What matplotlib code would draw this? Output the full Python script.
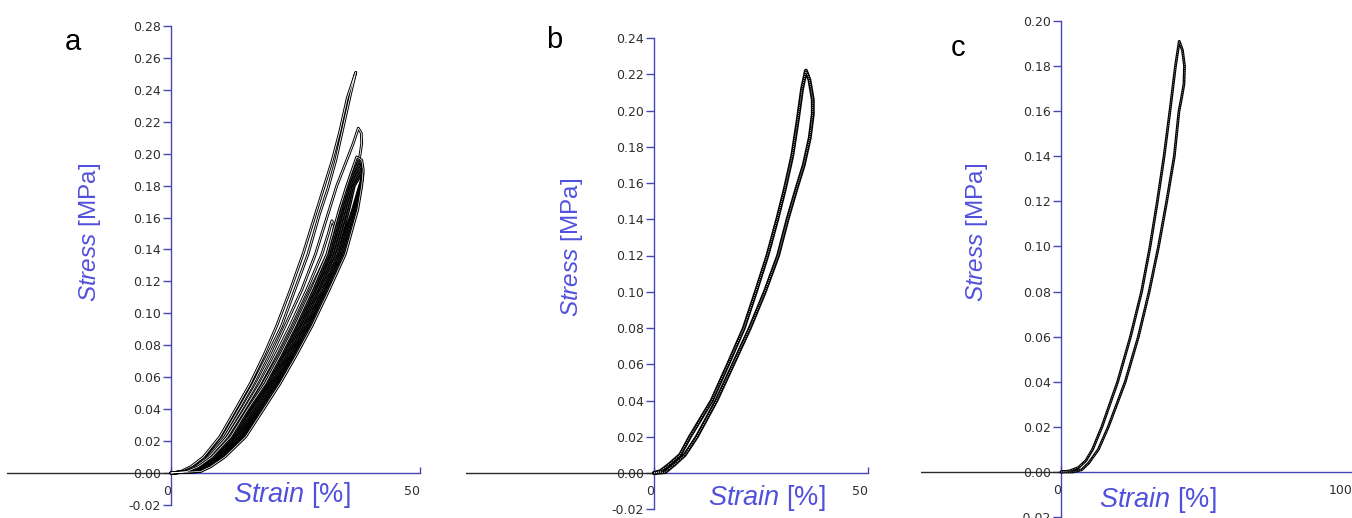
import matplotlib
matplotlib.use("Agg")
import matplotlib.pyplot as plt
from matplotlib.ticker import FixedLocator, FixedFormatter

plt.rcParams['font.family'] = ['Liberation Sans', 'DejaVu Sans']
plt.rcParams['mathtext.fontset'] = 'custom'
plt.rcParams['mathtext.it'] = 'Liberation Sans:italic'
plt.rcParams['mathtext.rm'] = 'Liberation Sans'
plt.rcParams['axes.unicode_minus'] = False

# ---------------- data: strain [%] / stress [MPa] hysteresis loops ----------------
# Panel a: repeated load-unload cycles (each list is one closed loop)
a_loopA_strain = [0, 2.0, 4.0, 6.5, 9.8, 13.0, 15.9, 18.7, 21.2, 24.0, 26.5, 29.0, 30.6, 32.4, 33.9, 35.4, 37.1,
                  36.1, 34.6, 33.1, 31.5, 29.8, 27.5, 24.9, 22.2, 19.4, 16.5, 13.6, 10.4, 7.2, 4.8, 3.0, 0]
a_loopA_stress = [0, 0.001, 0.004, 0.010, 0.0227, 0.040, 0.056, 0.074, 0.092, 0.115, 0.137, 0.162, 0.178, 0.196, 0.214, 0.235, 0.251,
                  0.238, 0.217, 0.196, 0.178, 0.162, 0.137, 0.115, 0.092, 0.074, 0.056, 0.040, 0.0227, 0.010, 0.004, 0.001, 0]

a_loopB_strain = [0, 2.6, 4.8, 7.3, 10.8, 14.2, 17.2, 20.2, 22.9, 26.3, 29.0, 31.8, 33.3, 35.3, 36.6, 37.6,
                  38.2, 38.3, 37.9, 37.2, 36.2, 35.0, 32.6, 29.5, 26.0, 23.0, 19.9, 16.6, 12.9, 9.0, 6.2, 4.0, 0]
a_loopB_stress = [0, 0.001, 0.004, 0.010, 0.0227, 0.040, 0.056, 0.074, 0.092, 0.115, 0.137, 0.165, 0.180, 0.196, 0.2065, 0.216,
                  0.213, 0.2065, 0.198, 0.190, 0.180, 0.165, 0.137, 0.115, 0.092, 0.074, 0.056, 0.040, 0.0227, 0.010, 0.004, 0.001, 0]

a_loopD_strain = [0, 2.8, 5.0, 7.6, 11.3, 14.8, 17.9, 21.0, 23.9, 27.3, 30.3, 31.6, 32.3,
                  32.8, 32.6, 31.4, 28.0, 24.6, 21.7, 18.5, 15.3, 11.8, 8.0, 5.3, 3.0, 0]
a_loopD_stress = [0, 0.001, 0.004, 0.010, 0.0227, 0.040, 0.056, 0.074, 0.092, 0.115, 0.137, 0.150, 0.158,
                  0.155, 0.148, 0.137, 0.115, 0.092, 0.074, 0.056, 0.040, 0.0227, 0.010, 0.004, 0.001, 0]

a_loopE0_strain = [0, 3.2, 5.5, 8.2, 12.0, 15.4, 18.9, 22.0, 24.9, 28.3, 31.3, 33.8, 35.3, 36.4, 37.3,
                   38.3, 38.6, 38.3, 37.5, 35.0, 31.8, 28.3, 25.2, 21.9, 18.6, 15.0, 10.8, 8.0, 6.0, 0]
a_loopE0_stress = [0, 0.001, 0.004, 0.010, 0.0227, 0.040, 0.056, 0.074, 0.092, 0.115, 0.137, 0.165, 0.180, 0.190, 0.198,
                   0.196, 0.190, 0.180, 0.165, 0.137, 0.115, 0.092, 0.074, 0.056, 0.040, 0.0227, 0.010, 0.004, 0.001, 0]

a_loopE1_strain = [0, 3.5, 5.8, 8.5, 12.3, 15.7, 19.2, 22.3, 25.2, 28.7, 31.7, 34.2, 35.6, 36.7, 37.6,
                   38.4, 38.5, 38.2, 37.3, 34.7, 31.5, 28.0, 24.9, 21.7, 18.3, 14.8, 10.6, 7.8, 5.8, 0]
a_loopE1_stress = [0, 0.001, 0.004, 0.010, 0.0227, 0.040, 0.056, 0.074, 0.092, 0.115, 0.137, 0.165, 0.180, 0.189, 0.195,
                   0.193, 0.187, 0.180, 0.165, 0.137, 0.115, 0.092, 0.074, 0.056, 0.040, 0.0227, 0.010, 0.004, 0.001, 0]

a_loopE2_strain = [0, 3.8, 6.0, 8.7, 12.6, 16.0, 19.5, 22.6, 25.6, 29.0, 32.0, 34.5, 35.9, 37.0, 37.8,
                   38.4, 38.4, 38.1, 37.1, 34.4, 31.2, 27.8, 24.7, 21.4, 18.1, 14.5, 10.4, 7.6, 5.6, 0]
a_loopE2_stress = [0, 0.001, 0.004, 0.010, 0.0227, 0.040, 0.056, 0.074, 0.092, 0.115, 0.137, 0.165, 0.180, 0.188, 0.193,
                   0.190, 0.185, 0.180, 0.165, 0.137, 0.115, 0.092, 0.074, 0.056, 0.040, 0.0227, 0.010, 0.004, 0.001, 0]

a_loopE3_strain = [0, 4.0, 6.3, 9.0, 12.9, 16.4, 19.8, 23.0, 25.9, 29.4, 32.4, 34.9, 36.2, 37.2, 38.0,
                   38.5, 38.3, 38.0, 36.9, 34.1, 31.0, 27.5, 24.4, 21.2, 17.8, 14.3, 10.2, 7.4, 5.3, 0]
a_loopE3_stress = [0, 0.001, 0.004, 0.010, 0.0227, 0.040, 0.056, 0.074, 0.092, 0.115, 0.137, 0.165, 0.180, 0.186, 0.190,
                   0.188, 0.184, 0.180, 0.165, 0.137, 0.115, 0.092, 0.074, 0.056, 0.040, 0.0227, 0.010, 0.004, 0.001, 0]

a_loopE4_strain = [0, 4.3, 6.5, 9.2, 13.2, 16.7, 20.1, 23.3, 26.3, 29.7, 32.8, 35.3, 36.5, 37.4, 38.1,
                   38.5, 38.3, 38.0, 36.7, 33.8, 30.7, 27.2, 24.2, 20.9, 17.6, 14.0, 10.0, 7.2, 5.1, 0]
a_loopE4_stress = [0, 0.001, 0.004, 0.010, 0.0227, 0.040, 0.056, 0.074, 0.092, 0.115, 0.137, 0.165, 0.180, 0.185, 0.188,
                   0.186, 0.183, 0.180, 0.165, 0.137, 0.115, 0.092, 0.074, 0.056, 0.040, 0.0227, 0.010, 0.004, 0.001, 0]

a_loopE5_strain = [0, 4.6, 6.8, 9.5, 13.5, 17.0, 20.4, 23.6, 26.6, 30.1, 33.2, 35.7, 36.8, 37.6, 38.2,
                   38.4, 38.2, 37.9, 36.5, 33.5, 30.4, 26.9, 23.9, 20.7, 17.3, 13.8, 9.8, 7.0, 4.9, 0]
a_loopE5_stress = [0, 0.001, 0.004, 0.010, 0.0227, 0.040, 0.056, 0.074, 0.092, 0.115, 0.137, 0.165, 0.180, 0.184, 0.186,
                   0.185, 0.182, 0.180, 0.165, 0.137, 0.115, 0.092, 0.074, 0.056, 0.040, 0.0227, 0.010, 0.004, 0.001, 0]

# Panel b: single loop
b_loop_strain = [0, 1.5, 3.7, 6.1, 8.4, 13.5, 17.3, 21.0, 23.8, 26.5, 28.8, 30.6, 32.3, 33.6, 34.6, 35.5,
                 36.3, 37.1, 37.1, 36.4, 35.0, 33.3, 31.2, 29.0, 25.9, 22.4, 18.5, 14.6, 10.0, 7.2, 4.9, 2.6, 0]
b_loop_stress = [0, 0.001, 0.005, 0.010, 0.020, 0.040, 0.060, 0.080, 0.100, 0.120, 0.140, 0.157, 0.175, 0.195, 0.212, 0.222,
                 0.217, 0.206, 0.198, 0.185, 0.170, 0.157, 0.140, 0.120, 0.100, 0.080, 0.060, 0.040, 0.020, 0.010, 0.005, 0.0005, 0]

# Panel c: single loop
c_loop_strain = [0, 3.0, 6.0, 8.5, 10.8, 14.0, 19.4, 23.8, 27.6, 30.5, 33.0, 35.3, 37.3, 39.2, 40.5,
                 41.6, 42.3, 42.1, 41.3, 40.4, 38.8, 36.2, 33.4, 30.2, 26.5, 22.0, 16.2, 12.8, 9.5, 7.1, 4.0, 0]
c_loop_stress = [0, 0.0005, 0.002, 0.005, 0.010, 0.020, 0.040, 0.060, 0.080, 0.100, 0.120, 0.140, 0.160, 0.180, 0.191,
                 0.187, 0.180, 0.172, 0.166, 0.160, 0.140, 0.120, 0.100, 0.080, 0.060, 0.040, 0.020, 0.010, 0.004, 0.001, 0, 0]

# Axis ticks
a_yticks = [-0.02, 0.00, 0.02, 0.04, 0.06, 0.08, 0.10, 0.12, 0.14, 0.16, 0.18, 0.20, 0.22, 0.24, 0.26, 0.28]
b_yticks = [-0.02, 0.00, 0.02, 0.04, 0.06, 0.08, 0.10, 0.12, 0.14, 0.16, 0.18, 0.20, 0.22, 0.24]
c_yticks = [-0.02, 0.00, 0.02, 0.04, 0.06, 0.08, 0.10, 0.12, 0.14, 0.16, 0.18, 0.20]
a_xticks = [0, 50]
b_xticks = [0, 50]
c_xticks = [0, 100]

# ---------------- figure ----------------
W, H = 1352, 518
AXIS_BLUE = '#4646b4'
LABEL_BLUE = '#5050dc'
TICK_GREY = '#2e2e2e'

fig = plt.figure(figsize=(W / 100, H / 100), dpi=100)


def place_axes(x0_px, x_scale, y0_px, y_scale, xlim, ylim):
    left = x0_px + xlim[0] * x_scale
    right = x0_px + xlim[1] * x_scale
    top = y0_px - ylim[1] * y_scale
    bottom = y0_px - ylim[0] * y_scale
    ax = fig.add_axes([left / W, 1 - bottom / H, (right - left) / W, (bottom - top) / H])
    ax.set_xlim(xlim)
    ax.set_ylim(ylim)
    ax.patch.set_alpha(0)
    return ax


def style_axes(ax, yticks, xticks):
    for s in ('top', 'right'):
        ax.spines[s].set_visible(False)
    ax.spines['left'].set_position(('data', 0))
    ax.spines['bottom'].set_position(('data', 0))
    ax.spines['left'].set_bounds(yticks[0], yticks[-1])
    ax.spines['bottom'].set_bounds(xticks[0], xticks[-1])
    for s in ('left', 'bottom'):
        ax.spines[s].set_color(AXIS_BLUE)
        ax.spines[s].set_linewidth(1.0)
    ax.yaxis.set_major_locator(FixedLocator(yticks))
    ax.yaxis.set_major_formatter(FixedFormatter([f'{v:.2f}' for v in yticks]))
    ax.xaxis.set_major_locator(FixedLocator(xticks))
    ax.xaxis.set_major_formatter(FixedFormatter([str(v) for v in xticks]))
    ax.tick_params(axis='y', direction='out', length=6, width=1.0, color=AXIS_BLUE,
                   pad=1.2, labelsize=9, labelcolor=TICK_GREY, labelfontfamily='DejaVu Sans')
    ax.tick_params(axis='x', direction='in', length=4.5, width=1.0, color=AXIS_BLUE,
                   pad=8.5, labelsize=9, labelcolor=TICK_GREY, labelfontfamily='DejaVu Sans')
    for t in ax.get_xticklabels():
        t.set_ha('right')
    # zero line running left of the strain axis
    ax.plot([ax.get_xlim()[0], 0], [0, 0], color='#2b2b2b', lw=1.0, zorder=2)


def draw_loop(ax, x, y, outer, inner, inner_style='-'):
    ax.plot(x, y, color='black', lw=outer, solid_joinstyle='round', solid_capstyle='round', zorder=3)
    ax.plot(x, y, color='white', lw=inner, ls=inner_style, zorder=3)


def axis_labels(xlab_px, ylab_px):
    fig.text(ylab_px[0] / W, 1 - ylab_px[1] / H, r'$\mathit{Stress}$ [MPa]', rotation=90,
             ha='center', va='center', fontsize=17.5, color=LABEL_BLUE)
    fig.text(xlab_px[0] / W, 1 - xlab_px[1] / H, r'$\mathit{Strain}$ [%]',
             ha='center', va='center', fontsize=19.5, color=LABEL_BLUE)


# Panel a: first cycles drawn open, later (overlapping) cycles drawn denser
ax_a = place_axes(171, 4.98, 473, 1596.5, (-33, 52), (-0.022, 0.285))
style_axes(ax_a, a_yticks, a_xticks)
for xs, ys in [(a_loopA_strain, a_loopA_stress), (a_loopB_strain, a_loopB_stress),
               (a_loopD_strain, a_loopD_stress)]:
    draw_loop(ax_a, xs, ys, 2.0, 0.6)
for xs, ys in [(a_loopE5_strain, a_loopE5_stress), (a_loopE4_strain, a_loopE4_stress),
               (a_loopE3_strain, a_loopE3_stress), (a_loopE2_strain, a_loopE2_stress),
               (a_loopE1_strain, a_loopE1_stress)]:
    draw_loop(ax_a, xs, ys, 2.2, 0.35, (0, (1, 1.5)))
draw_loop(ax_a, a_loopE0_strain, a_loopE0_stress, 2.0, 0.5)
axis_labels((292, 495), (90, 232))
fig.text(73 / W, 1 - 42 / H, 'a', ha='center', va='center', fontsize=21, color='black')

# Panel b
ax_b = place_axes(654, 4.28, 473, 1812.5, (-44, 52), (-0.022, 0.245))
style_axes(ax_b, b_yticks, b_xticks)
draw_loop(ax_b, b_loop_strain, b_loop_stress, 2.8, 0.6, (0, (1, 1.5)))
axis_labels((767, 498), (572, 247))
fig.text(554 / W, 1 - 40 / H, 'b', ha='center', va='center', fontsize=21, color='black')

# Panel c
ax_c = place_axes(1061, 2.92, 472, 2255, (-48, 100), (-0.021, 0.205))
style_axes(ax_c, c_yticks, c_xticks)
draw_loop(ax_c, c_loop_strain, c_loop_stress, 2.0, 0.45, (0, (1, 2)))
axis_labels((1158, 500), (977, 232))
fig.text(958 / W, 1 - 48 / H, 'c', ha='center', va='center', fontsize=21, color='black')

fig.savefig('out.png', dpi=100)
